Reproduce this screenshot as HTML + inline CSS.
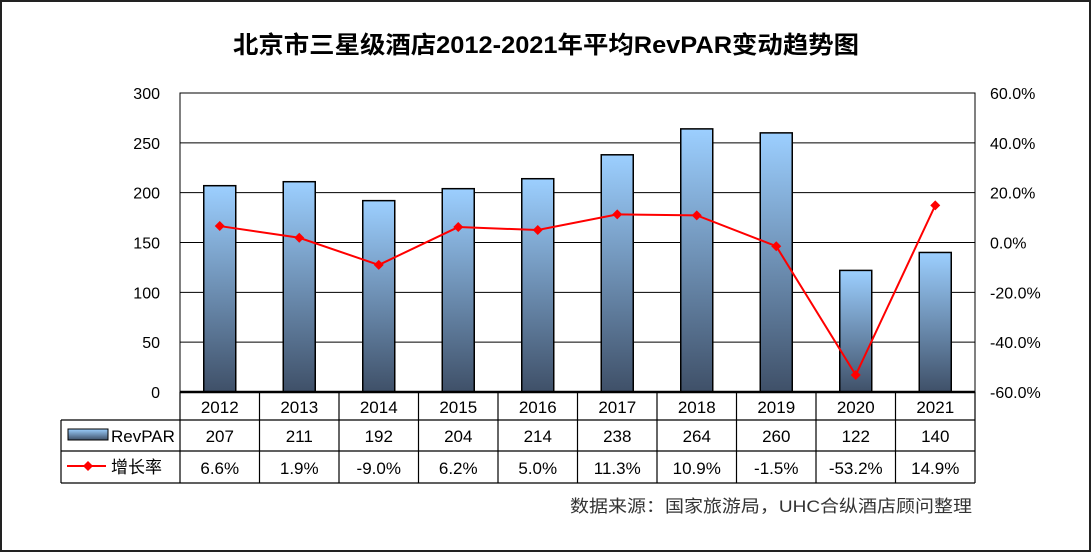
<!DOCTYPE html>
<html><head><meta charset="utf-8"><style>
body{margin:0;background:#fff;}
svg{display:block;font-family:"Liberation Sans","Noto Sans CJK SC",sans-serif;}
</style></head><body>
<svg id="c" width="1091" height="552">
<defs><linearGradient id="g" x1="0" y1="0" x2="0" y2="1"><stop offset="0" stop-color="#9ccfff"/><stop offset="1" stop-color="#3f5068"/></linearGradient>
<linearGradient id="gl" x1="0" y1="0" x2="0" y2="1"><stop offset="0" stop-color="#9ccfff"/><stop offset="1" stop-color="#3f5068"/></linearGradient></defs>
<rect x="1" y="1" width="1089" height="550" fill="#fff" stroke="#222" stroke-width="2"/>
<text x="546" y="53" text-anchor="middle" font-size="24" font-weight="bold" textLength="626" lengthAdjust="spacingAndGlyphs">北京市三星级酒店2012-2021年平均RevPAR变动趋势图</text>
<text x="972" y="512" text-anchor="end" font-size="17" fill="#333" textLength="402" lengthAdjust="spacingAndGlyphs">数据来源：国家旅游局，UHC合纵酒店顾问整理</text>
</svg>
<script>
const years=["2012","2013","2014","2015","2016","2017","2018","2019","2020","2021"];
const revpar=[207,211,192,204,214,238,264,260,122,140];
const growth=[6.6,1.9,-9.0,6.2,5.0,11.3,10.9,-1.5,-53.2,14.9];
const leftTicks=[0,50,100,150,200,250,300];
const rightTicks=[-60,-40,-20,0,20,40,60];
const svg=document.getElementById('c');const NS='http://www.w3.org/2000/svg';
function mk(t,a,p){const e=document.createElementNS(NS,t);for(const k in a)e.setAttribute(k,a[k]);(p||svg).appendChild(e);return e;}
const X0=180,X1=975,Y0=392,Y1=93;
const cw=(X1-X0)/years.length;
const yL=v=>Y0-(v/300)*(Y0-Y1);
const yR=v=>Y0-((v+60)/120)*(Y0-Y1);
const xc=i=>X0+cw*(i+0.5);
leftTicks.forEach(t=>{
 if(t>0){const l=mk('line',{x1:X0,x2:X1,y1:yL(t),y2:yL(t),stroke:'#000','stroke-width':1});
 }
 const tx=mk('text',{x:160,y:yL(t)+6,'text-anchor':'end','font-size':16});tx.textContent=t;
 
});
rightTicks.forEach(t=>{
 const tx=mk('text',{x:990,y:yR(t)+6,'font-size':16});tx.textContent=t.toFixed(1)+'%';
 
});
const pa=mk('rect',{x:X0,y:Y1,width:X1-X0,height:Y0-Y1,fill:'none',stroke:'#000','stroke-width':1});

revpar.forEach((v,i)=>{
 const b=mk('rect',{x:xc(i)-16,y:yL(v),width:32,height:Y0-yL(v),fill:'url(#g)',stroke:'#000','stroke-width':1.5});
 
});
const ln=mk('polyline',{points:growth.map((g,i)=>xc(i)+','+yR(g)).join(' '),fill:'none',stroke:'#f00','stroke-width':2});

growth.forEach((g,i)=>{const x=xc(i),y=yR(g);
 const m=mk('polygon',{points:`${x},${y-5} ${x+5},${y} ${x},${y+5} ${x-5},${y}`,fill:'#f00'});
 });
mk('line',{x1:X0,x2:X1,y1:Y0,y2:Y0,stroke:'#000','stroke-width':2.5});
[420,451,483].forEach(y=>mk('line',{x1:61,x2:X1,y1:y,y2:y,stroke:'#000','stroke-width':1.2}));
mk('line',{x1:61,x2:61,y1:420,y2:483,stroke:'#000','stroke-width':1.2});
for(let i=0;i<=years.length;i++)mk('line',{x1:X0+cw*i,x2:X0+cw*i,y1:392,y2:483,stroke:'#000','stroke-width':1.2});
years.forEach((y,i)=>{
 const a=mk('text',{x:xc(i),y:413,'text-anchor':'middle','font-size':17});a.textContent=y;
 
 const b=mk('text',{x:xc(i),y:442,'text-anchor':'middle','font-size':17});b.textContent=revpar[i];
 
 const c=mk('text',{x:xc(i),y:474,'text-anchor':'middle','font-size':17});c.textContent=growth[i].toFixed(1)+'%';
 
});
const lk=mk('rect',{x:68,y:429,width:40,height:11,fill:'url(#gl)',stroke:'#000'});

const lt=mk('text',{x:111,y:442,'font-size':17});lt.textContent='RevPAR';

mk('line',{x1:67,x2:106,y1:466,y2:466,stroke:'#f00','stroke-width':2});
mk('polygon',{points:'88,461 93,466 88,471 83,466',fill:'#f00'});
const gt=mk('text',{x:111,y:473,'font-size':17});gt.textContent='增长率';

</script>
</body></html>
